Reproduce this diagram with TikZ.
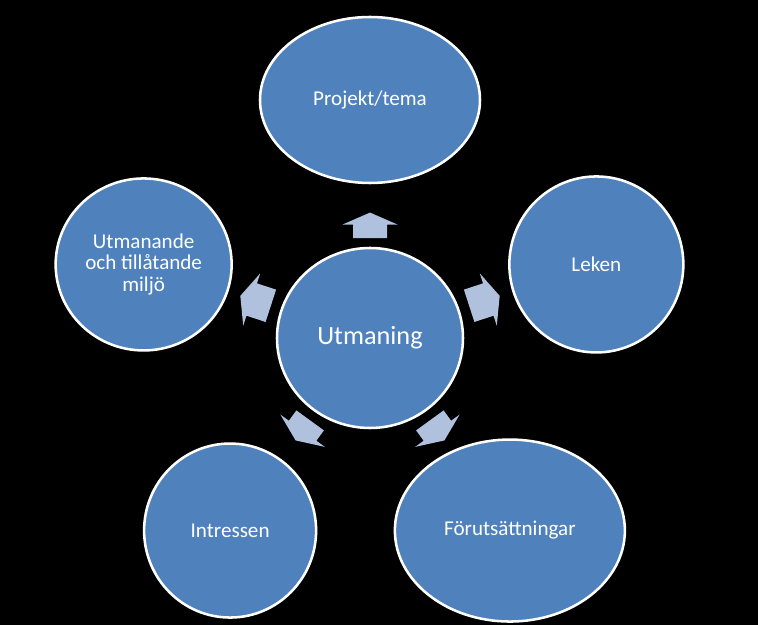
\documentclass[tikz,border=0pt]{standalone}
\usepackage{fontspec}
\setmainfont{Carlito}
\usetikzlibrary{shapes.geometric, calc}
\definecolor{circleblue}{HTML}{4F81BD}
\definecolor{arrowblue}{HTML}{B0C1DE}

% block arrow between two nodes: from, to, start fraction, end fraction
\newcommand{\blockarrow}[4]{%
	\coordinate (ta) at ($(#1)!#3!(#2)$);
	\coordinate (tb) at ($(#1)!#4!(#2)$);
	\coordinate (th) at ($(tb)!0.3cm!(ta)$);
	\fill[arrow] ($(ta)!0.425cm!90:(tb)$) -- ($(th)!0.425cm!-90:(ta)$) -- ($(th)!0.6875cm!-90:(ta)$) -- (tb)
		-- ($(th)!0.6875cm!90:(ta)$) -- ($(th)!0.425cm!90:(ta)$) -- ($(ta)!0.425cm!-90:(tb)$) -- cycle;
}

\begin{document}
\begin{tikzpicture}[
		every node/.style={ellipse, draw=white, line width=1.8pt, fill=circleblue, text=white, inner sep=0pt, align=center, font=\fontsize{15}{15.6}\selectfont},
		hub/.style={minimum width=4.65cm, minimum height=4.5cm, font=\fontsize{18.7}{20}\selectfont},
		arrow/.style={fill=arrowblue}
	]
	
		% Background
		\fill[black] (0,0) rectangle (18.95,-15.625);
		
		% Nodes
		\node[hub] (utmaning) at (9.25,-8.45) {Utmaning};
		\node[minimum width=5.5cm, minimum height=4.15cm] (projekt) at ([shift={(90:5.95)}]utmaning) {Projekt/tema};
		\node[minimum width=4.35cm, minimum height=4.4cm] (leken) at ([shift={(18:5.95)}]utmaning) {Leken};
		\node[minimum width=5.75cm, minimum height=4.55cm] (forut) at ([shift={(-54:5.95)}]utmaning) {Förutsättningar};
		\node[minimum width=4.3cm, minimum height=4.35cm] (intressen) at ([shift={(234:5.95)}]utmaning) {Intressen};
		\node[minimum width=4.4cm, minimum height=4.3cm] (miljo) at ([shift={(162:5.95)}]utmaning) {Utmanande\\och tillåtande\\miljö};
		
		% Arrows
		\blockarrow{utmaning}{projekt}{0.42}{0.527}
		\blockarrow{utmaning}{leken}{0.438}{0.573}
		\blockarrow{utmaning}{forut}{0.428}{0.532}
		\blockarrow{utmaning}{intressen}{0.428}{0.532}
		\blockarrow{utmaning}{miljo}{0.438}{0.573}
		
	\end{tikzpicture}
\end{document}
